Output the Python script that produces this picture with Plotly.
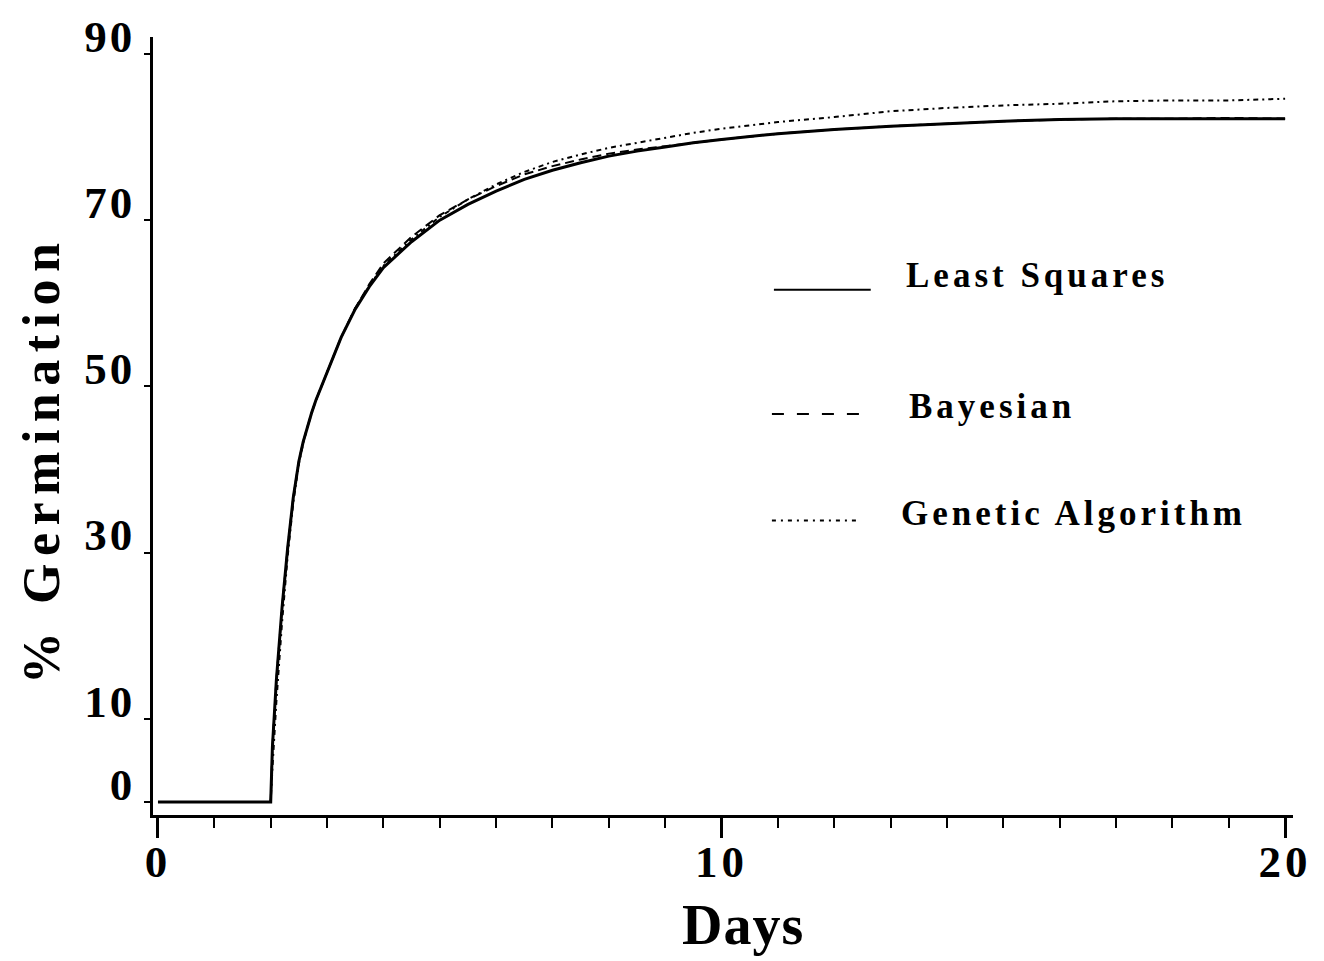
import plotly.graph_objects as go

# Germination time course fitted by three estimation methods
days = [0, 2.0, 2.03, 2.1, 2.2, 2.3, 2.4, 2.45, 2.5, 2.575, 2.65, 2.725, 2.8, 3.0, 3.25,
        3.5, 3.75, 4.0, 4.5, 5.0, 5.5, 6.0, 6.5, 7.0, 7.5, 8.0, 8.5, 9.0, 9.5, 10,
        11, 12, 13, 14, 15, 16, 17, 18, 19, 20]

least_squares = [0, 0, 6.6, 14.6, 23.3, 30.5, 36.6, 39.0, 41.0, 43.3, 45.2, 46.8, 48.3, 51.7,
                 55.9, 59.3, 62.0, 64.3, 67.4, 70.0, 71.9, 73.5, 74.9, 76.0, 76.9, 77.7, 78.3,
                 78.8, 79.3, 79.7, 80.4, 80.9, 81.3, 81.6, 81.9, 82.1, 82.2, 82.2, 82.2, 82.2]

bayesian = [0, 0, 6.6, 14.6, 23.3, 30.5, 36.6, 39.0, 41.0, 43.3, 45.2, 46.8, 48.3, 51.7,
            55.9, 59.4, 62.3, 64.8, 68.0, 70.6, 72.5, 74.1, 75.5, 76.5, 77.3, 78.0, 78.5,
            78.9, 79.3, 79.7, 80.4, 80.9, 81.3, 81.6, 81.9, 82.1, 82.2, 82.2, 82.3, 82.2]

genetic_algorithm = [0, 0, 4.0, 12.0, 21.5, 29.5, 36.0, 38.6, 40.7, 43.1, 45.1, 46.7, 48.3, 51.7,
                     55.9, 59.4, 62.1, 64.5, 67.7, 70.4, 72.5, 74.3, 75.8, 77.0, 77.9, 78.7, 79.3,
                     79.9, 80.5, 81.0, 81.8, 82.4, 83.1, 83.5, 83.8, 84.0, 84.3, 84.4, 84.4, 84.6]

series_names = ["Least Squares", "Bayesian", "Genetic Algorithm"]
y_ticks = [0, 10, 30, 50, 70, 90]
x_ticks = [0, 10, 20]

W, H = 1324, 961
L, R, T, B = 153, 29, 33, 146
FONT = "Liberation Serif, Times New Roman, serif"


def paper_x(px):
    return (px - L) / (W - L - R)


def paper_y(py):
    return (H - B - py) / (H - T - B)


def styled(text, css):
    return f'<span style="{css}">{text}</span>'


curve_styles = [
    dict(color="black", width=3, dash="solid"),
    dict(color="black", width=2, dash="9px,5px"),
    dict(color="black", width=2, dash="5px,4px,2px,4px"),
]
key_dashes = ["solid", "12px,13px", "4px,5px,2px,5px"]

fig = go.Figure()
for name, ys, st in zip(series_names, [least_squares, bayesian, genetic_algorithm], curve_styles):
    fig.add_trace(go.Scatter(x=days, y=ys, mode="lines", name=name, line=st,
                             showlegend=False))

tick_font = dict(family=FONT, size=45, color="black", weight=700)

fig.update_xaxes(
    range=[-0.0886, 20.14], showline=True, linecolor="black", linewidth=2.5,
    showgrid=False, zeroline=False, ticks="outside", ticklen=20, tickwidth=2.5,
    tickcolor="black", tickvals=x_ticks,
    ticktext=[styled(str(v), "letter-spacing:4px") for v in x_ticks], tickfont=tick_font,
    ticklabelstandoff=-15,
    minor=dict(dtick=1, ticks="outside", ticklen=10, tickwidth=2, tickcolor="black"),
)
fig.update_yaxes(
    range=[-1.556, 92.03], showline=True, linecolor="black", linewidth=2.5,
    showgrid=False, zeroline=False, ticks="outside", ticklen=6, tickwidth=2,
    tickcolor="black", tickvals=y_ticks,
    ticktext=[styled(str(v), "letter-spacing:3px;baseline-shift:18px") for v in y_ticks],
    tickfont=tick_font, ticklabelstandoff=0, ticklabeloverflow="allow",
)

annotations = [
    dict(text=styled("Days", "letter-spacing:1px"), x=paper_x(744), y=paper_y(926),
         xref="paper", yref="paper", xanchor="center", yanchor="middle", showarrow=False,
         font=dict(family=FONT, size=56, color="black", weight=700)),
    dict(text=styled("% Germination", "letter-spacing:7.5px"), x=paper_x(42), y=paper_y(458),
         xref="paper", yref="paper", xanchor="center", yanchor="middle", textangle=-90,
         showarrow=False, font=dict(family=FONT, size=52, color="black", weight=700)),
]

# Key: sample line plus label for each method
key_rows = [
    (775, 872, 287, 905, 273),
    (773, 867, 412, 908, 404),
    (773, 862, 519, 900, 512),
]
shapes = []
for (x0, x1, ly, tx, ty), name, dash in zip(key_rows, series_names, key_dashes):
    shapes.append(dict(type="line", xref="paper", yref="paper",
                       x0=paper_x(x0), x1=paper_x(x1), y0=paper_y(ly), y1=paper_y(ly),
                       line=dict(color="black", width=2, dash=dash)))
    annotations.append(dict(text=styled(name, "letter-spacing:4px"), x=paper_x(tx),
                            y=paper_y(ty), xref="paper", yref="paper", xanchor="left",
                            yanchor="middle", showarrow=False,
                            font=dict(family=FONT, size=35, color="black", weight=700)))

fig.update_layout(
    width=W, height=H, margin=dict(l=L, r=R, t=T, b=B),
    paper_bgcolor="white", plot_bgcolor="white",
    annotations=annotations, shapes=shapes, showlegend=False,
)

fig.write_html("out.html")
